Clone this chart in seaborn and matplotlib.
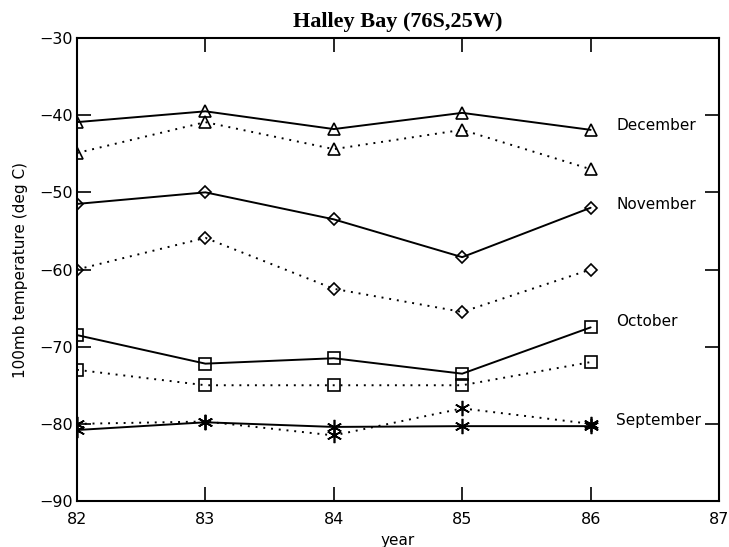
import matplotlib
matplotlib.use("Agg")
import matplotlib.pyplot as plt
import seaborn as sns
import pandas as pd

years = [82, 83, 84, 85, 86]

dec_solid = [-40.9, -39.5, -41.8, -39.7, -41.9]
dec_dotted = [-44.9, -40.9, -44.4, -41.9, -47.0]
nov_solid = [-51.5, -50.0, -53.5, -58.4, -52.0]
nov_dotted = [-60.0, -55.9, -62.5, -65.5, -60.0]
oct_solid = [-68.5, -72.2, -71.5, -73.5, -67.5]
oct_dotted = [-73.0, -75.0, -75.0, -75.0, -72.0]
sep_solid = [-80.8, -79.8, -80.4, -80.3, -80.3]
sep_dotted = [-80.0, -79.7, -81.5, -78.0, -80.0]

months = ["December", "November", "October", "September"]
label_y = [-41.3, -51.6, -66.8, -79.6]

sns.set_theme(style="white")
plt.rcParams["font.family"] = ["DejaVu Sans"]

fig = plt.figure(figsize=(7.29, 5.47), dpi=100)
ax = fig.add_axes([0.1056, 0.0841, 0.8807, 0.8464])

series = [
    (dec_solid, dec_dotted, "^", 9),
    (nov_solid, nov_dotted, "D", 6),
    (oct_solid, oct_dotted, "s", 9),
    (sep_solid, sep_dotted, (6, 2, 0), 11),
]

for (solid, dotted, mk, ms) in series:
    df = pd.DataFrame({"year": years, "solid": solid, "dotted": dotted})
    sns.lineplot(data=df, x="year", y="solid", ax=ax, color="black",
                 linewidth=1.4, marker=mk, markersize=ms,
                 markerfacecolor="none", markeredgecolor="black",
                 markeredgewidth=1.2)
    sns.lineplot(data=df, x="year", y="dotted", ax=ax, color="black",
                 linewidth=1.4, linestyle=(0, (1, 3)), marker=mk,
                 markersize=ms, markerfacecolor="none",
                 markeredgecolor="black", markeredgewidth=1.2)

for name, yv in zip(months, label_y):
    ax.text(86.2, yv, name, fontsize=11, va="center", ha="left", color="black")

ax.set_xlim(82, 87)
ax.set_ylim(-90, -30)
ax.set_xticks([82, 83, 84, 85, 86, 87])
ax.set_xticklabels(["82", "83", "84", "85", "86", "87"])
ax.set_yticks([-90, -80, -70, -60, -50, -40, -30])
ax.set_yticklabels(["\u221290", "\u221280", "\u221270", "\u221260",
                    "\u221250", "\u221240", "\u221230"])
ax.tick_params(direction="in", length=10, width=1.2, color="black",
               top=True, right=True, bottom=True, left=True,
               labelsize=11.5, labelcolor="black")
ax.tick_params(axis="x", pad=8)
ax.tick_params(axis="y", pad=3)
for sp in ax.spines.values():
    sp.set_color("black")
    sp.set_linewidth(1.5)

ax.set_xlabel("year", fontsize=11, color="black", labelpad=4)
ax.set_ylabel("100mb temperature (deg C)", fontsize=11, color="black", labelpad=8)
ax.set_title("Halley Bay (76S,25W)", fontsize=16, color="black",
             family="Liberation Serif", fontweight="bold", pad=8)

fig.savefig("out.png", dpi=100, facecolor="white")
